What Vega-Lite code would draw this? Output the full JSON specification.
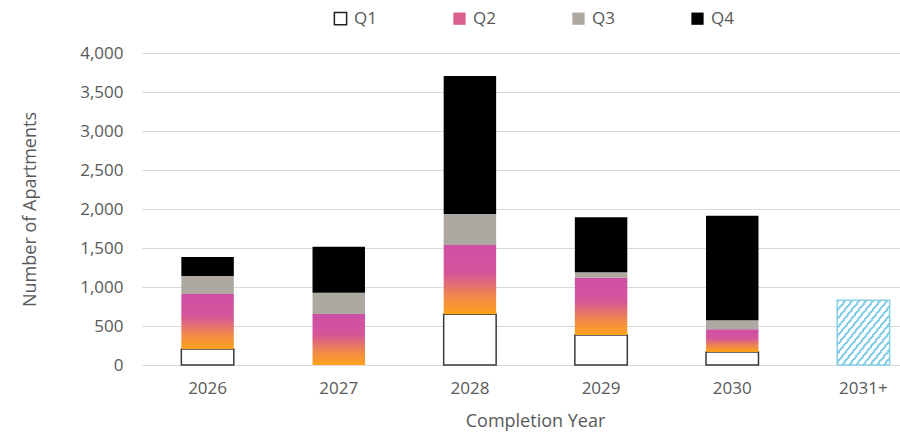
{
  "$schema": "https://vega.github.io/schema/vega-lite/v6.json",
  "width": 758,
  "height": 312,
  "autosize": "none",
  "padding": {"left": 142, "top": 53, "right": 0, "bottom": 74},
  "background": "white",
  "config": {
    "view": {"stroke": null},
    "font": "Open Sans",
    "axis": {"labelColor": "#595959", "titleColor": "#595959", "titleFontWeight": "normal", "labelFont": "Open Sans", "titleFont": "Open Sans"}
  },
  "data": {
    "values": [
      {"year": "2026", "quarter": "Q1", "order": 1, "value": 205},
      {"year": "2026", "quarter": "Q2", "order": 2, "value": 705},
      {"year": "2026", "quarter": "Q3", "order": 3, "value": 230},
      {"year": "2026", "quarter": "Q4", "order": 4, "value": 245},
      {"year": "2027", "quarter": "Q1", "order": 1, "value": 0},
      {"year": "2027", "quarter": "Q2", "order": 2, "value": 655},
      {"year": "2027", "quarter": "Q3", "order": 3, "value": 270},
      {"year": "2027", "quarter": "Q4", "order": 4, "value": 590},
      {"year": "2028", "quarter": "Q1", "order": 1, "value": 650},
      {"year": "2028", "quarter": "Q2", "order": 2, "value": 888},
      {"year": "2028", "quarter": "Q3", "order": 3, "value": 398},
      {"year": "2028", "quarter": "Q4", "order": 4, "value": 1769},
      {"year": "2029", "quarter": "Q1", "order": 1, "value": 385},
      {"year": "2029", "quarter": "Q2", "order": 2, "value": 735},
      {"year": "2029", "quarter": "Q3", "order": 3, "value": 70},
      {"year": "2029", "quarter": "Q4", "order": 4, "value": 705},
      {"year": "2030", "quarter": "Q1", "order": 1, "value": 167},
      {"year": "2030", "quarter": "Q2", "order": 2, "value": 290},
      {"year": "2030", "quarter": "Q3", "order": 3, "value": 116},
      {"year": "2030", "quarter": "Q4", "order": 4, "value": 1341},
      {"year": "2031+", "quarter": "Unknown", "order": 5, "value": 830}
    ]
  },
  "transform": [
    {"stack": "value", "groupby": ["year"], "sort": [{"field": "order", "order": "ascending"}], "as": ["v0", "v1"]}
  ],
  "encoding": {
    "x": {
      "field": "year", "type": "nominal", "sort": ["2026", "2027", "2028", "2029", "2030", "2031+"],
      "scale": {"range": [0, 787], "paddingInner": 0.6, "paddingOuter": 0.3},
      "axis": {"title": "Completion Year", "labelAngle": 0, "labelFontSize": 17, "titleFontSize": 18, "ticks": false, "domainColor": "#D9D9D9", "labelPadding": 15, "titlePadding": 16, "titleX": 393, "titleAnchor": "middle"}
    },
    "y": {
      "field": "v1", "type": "quantitative",
      "scale": {"domain": [0, 4000]},
      "axis": {"title": "Number of Apartments", "values": [0, 500, 1000, 1500, 2000, 2500, 3000, 3500, 4000], "format": ",.0f", "labelFontSize": 17, "titleFontSize": 18, "ticks": false, "domain": false, "gridColor": "#D9D9D9", "labelPadding": 19, "titlePadding": 40}
    },
    "y2": {"field": "v0"}
  },
  "layer": [
    {
      "transform": [{"filter": "datum.quarter === 'Q1' && datum.value > 0"}],
      "mark": {"type": "bar", "fill": "white", "stroke": "#3A3A3A", "strokeWidth": 1.5}
    },
    {
      "transform": [{"filter": "datum.quarter === 'Q2'"}],
      "mark": {"type": "bar", "fill": {"gradient": "linear", "x1": 0, "y1": 1, "x2": 0, "y2": 0, "stops": [
        {"offset": 0, "color": "#FFA21A"},
        {"offset": 0.25, "color": "#F08A4A"},
        {"offset": 0.6, "color": "#D5559A"},
        {"offset": 1, "color": "#CE4FA6"}
      ]}}
    },
    {
      "transform": [{"filter": "datum.quarter === 'Q3'"}],
      "mark": {"type": "bar", "fill": "#ADA8A1"}
    },
    {
      "transform": [{"filter": "datum.quarter === 'Q4'"}],
      "mark": {"type": "bar", "fill": "black"}
    },
    {
      "transform": [{"filter": "datum.quarter === 'Unknown'"}],
      "mark": {"type": "bar", "stroke": "#86CFE7", "strokeWidth": 1.5, "fill": {"gradient": "linear", "x1": 0, "y1": 0, "x2": 1, "y2": 1, "stops": [
        {"offset": 0, "color": "#86CFE7"}, {"offset": 0.0267, "color": "#86CFE7"}, {"offset": 0.0267, "color": "white"}, {"offset": 0.0667, "color": "white"},
        {"offset": 0.0667, "color": "#86CFE7"}, {"offset": 0.0933, "color": "#86CFE7"}, {"offset": 0.0933, "color": "white"}, {"offset": 0.1333, "color": "white"},
        {"offset": 0.1333, "color": "#86CFE7"}, {"offset": 0.16, "color": "#86CFE7"}, {"offset": 0.16, "color": "white"}, {"offset": 0.2, "color": "white"},
        {"offset": 0.2, "color": "#86CFE7"}, {"offset": 0.2267, "color": "#86CFE7"}, {"offset": 0.2267, "color": "white"}, {"offset": 0.2667, "color": "white"},
        {"offset": 0.2667, "color": "#86CFE7"}, {"offset": 0.2933, "color": "#86CFE7"}, {"offset": 0.2933, "color": "white"}, {"offset": 0.3333, "color": "white"},
        {"offset": 0.3333, "color": "#86CFE7"}, {"offset": 0.36, "color": "#86CFE7"}, {"offset": 0.36, "color": "white"}, {"offset": 0.4, "color": "white"},
        {"offset": 0.4, "color": "#86CFE7"}, {"offset": 0.4267, "color": "#86CFE7"}, {"offset": 0.4267, "color": "white"}, {"offset": 0.4667, "color": "white"},
        {"offset": 0.4667, "color": "#86CFE7"}, {"offset": 0.4933, "color": "#86CFE7"}, {"offset": 0.4933, "color": "white"}, {"offset": 0.5333, "color": "white"},
        {"offset": 0.5333, "color": "#86CFE7"}, {"offset": 0.56, "color": "#86CFE7"}, {"offset": 0.56, "color": "white"}, {"offset": 0.6, "color": "white"},
        {"offset": 0.6, "color": "#86CFE7"}, {"offset": 0.6267, "color": "#86CFE7"}, {"offset": 0.6267, "color": "white"}, {"offset": 0.6667, "color": "white"},
        {"offset": 0.6667, "color": "#86CFE7"}, {"offset": 0.6933, "color": "#86CFE7"}, {"offset": 0.6933, "color": "white"}, {"offset": 0.7333, "color": "white"},
        {"offset": 0.7333, "color": "#86CFE7"}, {"offset": 0.76, "color": "#86CFE7"}, {"offset": 0.76, "color": "white"}, {"offset": 0.8, "color": "white"},
        {"offset": 0.8, "color": "#86CFE7"}, {"offset": 0.8267, "color": "#86CFE7"}, {"offset": 0.8267, "color": "white"}, {"offset": 0.8667, "color": "white"},
        {"offset": 0.8667, "color": "#86CFE7"}, {"offset": 0.8933, "color": "#86CFE7"}, {"offset": 0.8933, "color": "white"}, {"offset": 0.9333, "color": "white"},
        {"offset": 0.9333, "color": "#86CFE7"}, {"offset": 0.96, "color": "#86CFE7"}, {"offset": 0.96, "color": "white"}, {"offset": 1, "color": "white"}
      ]}}
    },
    {
      "transform": [{"filter": "false"}],
      "mark": {"type": "bar"},
      "encoding": {
        "fill": {
          "field": "quarter", "type": "nominal",
          "scale": {"domain": ["Q1", "Q2", "Q3", "Q4"], "range": ["white", "#DB5F8C", "#ADA8A1", "black"]},
          "legend": {
            "title": null, "orient": "none", "direction": "horizontal", "legendX": 190, "legendY": -43,
            "padding": 0, "symbolType": "square", "symbolSize": 150, "labelFontSize": 17, "labelColor": "#595959",
            "labelFont": "Open Sans", "labelOffset": 5, "columnPadding": 73, "symbolStrokeWidth": 1.5,
            "encode": {
              "symbols": {
                "update": {
                  "fill": [
                    {"test": "datum.value === 'Q2'", "value": {"gradient": "linear", "x1": 0, "y1": 1, "x2": 0, "y2": 0, "stops": [{"offset": 0, "color": "#FFA21A"}, {"offset": 0.6, "color": "#D5559A"}, {"offset": 1, "color": "#CE4FA6"}]}},
                    {"test": "datum.value === 'Q1'", "value": "white"},
                    {"test": "datum.value === 'Q3'", "value": "#ADA8A1"},
                    {"value": "black"}
                  ],
                  "stroke": [
                    {"test": "datum.value === 'Q1'", "value": "#222222"},
                    {"value": "transparent"}
                  ],
                  "opacity": {"value": 1}
                }
              }
            }
          }
        }
      }
    }
  ]
}
